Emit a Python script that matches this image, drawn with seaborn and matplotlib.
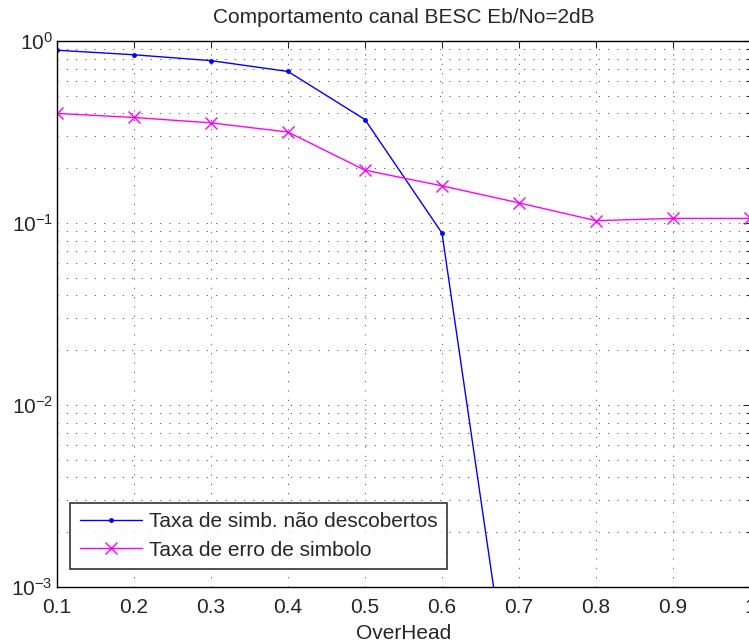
import numpy as np
import pandas as pd
import matplotlib
matplotlib.use("Agg")
import matplotlib.pyplot as plt
import seaborn as sns
from matplotlib.ticker import LogLocator, NullFormatter

overhead = [0.1, 0.2, 0.3, 0.4, 0.5, 0.6, 0.7, 0.8, 0.9, 1.0]
taxa_nao_descobertos = [0.89, 0.84, 0.78, 0.68, 0.37, 0.088, 1.1e-4, np.nan, np.nan, np.nan]
taxa_erro = [0.40, 0.38, 0.355, 0.316, 0.195, 0.16, 0.129, 0.103, 0.106, 0.106]
labels = ["Taxa de simb. não descobertos", "Taxa de erro de simbolo"]
xtick_labels = ["0.1", "0.2", "0.3", "0.4", "0.5", "0.6", "0.7", "0.8", "0.9", "1"]

sns.set_style("white")
plt.rcParams["font.family"] = ["Liberation Sans", "DejaVu Sans"]
plt.rcParams["mathtext.fontset"] = "custom"
plt.rcParams["mathtext.rm"] = "Liberation Sans"

FS = 15
fig = plt.figure(figsize=(7.49, 6.44), dpi=100)
ax = fig.add_axes([57/749, (644-587)/644, 693/749, 546/644])

df1 = pd.DataFrame({"x": overhead, "y": taxa_nao_descobertos})
df2 = pd.DataFrame({"x": overhead, "y": taxa_erro})
sns.lineplot(data=df1, x="x", y="y", ax=ax, color="#0000ff", marker=".", markersize=7,
             markeredgewidth=0, markerfacecolor="#0000ff", linewidth=1.0, label=labels[0])
sns.lineplot(data=df2, x="x", y="y", ax=ax, color="#ff00ff", marker="x", markersize=8,
             markeredgewidth=1.0, markeredgecolor="#ff00ff", linewidth=1.0, label=labels[1])

ax.set_yscale("log")
ax.set_ylim(1e-3, 1)
ax.set_xlim(0.1, 1.0)
ax.set_xticks(overhead)
ax.set_xticklabels(xtick_labels)
ax.yaxis.set_major_locator(LogLocator(base=10, numticks=10))
ax.yaxis.set_minor_locator(LogLocator(base=10, subs=np.arange(2, 10), numticks=100))
ax.yaxis.set_minor_formatter(NullFormatter())

dots = (0, (1.2, 10))
ax.grid(True, which="major", axis="both", linestyle=dots, color="#222222", linewidth=0.6)
ax.grid(True, which="minor", axis="y", linestyle=dots, color="#222222", linewidth=0.6)
ax.tick_params(axis="both", which="both", direction="in", top=True, right=True,
               labelsize=FS, length=5, width=0.8)
ax.tick_params(axis="y", which="minor", length=3)
ax.tick_params(axis="x", pad=8)
ax.tick_params(axis="y", pad=3)
for s in ax.spines.values():
    s.set_linewidth(1.0)
    s.set_color("black")

ax.set_xlabel("OverHead", fontsize=FS, labelpad=5)
ax.set_ylabel("")
ax.set_title("Comportamento canal BESC Eb/No=2dB", fontsize=FS, pad=13)

leg = ax.legend(loc="lower left", bbox_to_anchor=(0.019, 0.033), borderaxespad=0,
                fontsize=FS, frameon=True, fancybox=False, handlelength=3.0,
                borderpad=0.45, labelspacing=0.45, handletextpad=0.35)
leg.get_frame().set_edgecolor("black")
leg.get_frame().set_linewidth(1.2)

fig.savefig("out.png", dpi=100)
